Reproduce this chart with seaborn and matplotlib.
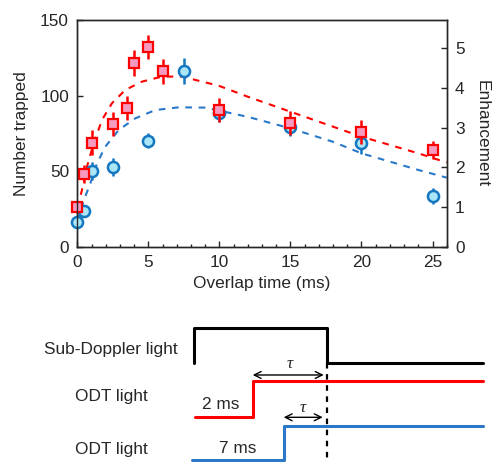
import numpy as np
import pandas as pd
import matplotlib
matplotlib.use("Agg")
import matplotlib.pyplot as plt
import seaborn as sns

# measured points
t_2ms = [0, 0.5, 1, 2.5, 3.5, 4, 5, 6, 10, 15, 20, 25]
n_2ms = [26.2, 48.2, 69, 81.3, 91.6, 121.8, 132.4, 116, 90.5, 81.7, 75.8, 64.3]
err_2ms = [4, 6, 8, 8, 8, 8.5, 8, 8, 8, 8, 8, 6]

t_7ms = [0, 0.5, 1, 2.5, 5, 7.5, 10, 15, 20, 25]
n_7ms = [16.7, 23.6, 50, 52.6, 70.3, 116.3, 88.3, 79.5, 68.5, 33.7]
err_7ms = [2, 2, 6, 6, 5, 8.5, 6, 6, 7, 5]

# fit curves
fit_t_2ms = [0, 0.33, 0.68, 1.15, 1.74, 2.44, 3.38, 4.56, 5.96, 7.37, 9.25, 10, 12, 15, 18, 20, 22, 24, 26]
fit_n_2ms = [26, 37.7, 53, 68.5, 84, 95, 103.8, 109.3, 112.6, 112.6, 108.2, 106.4, 99.3, 89.4, 79.5, 72.9, 67.4, 61.9, 55.8]
fit_t_7ms = [0, 0.5, 0.92, 1.39, 1.97, 2.91, 4.08, 5.49, 7.14, 9.0, 10, 12, 15, 18, 20, 22, 24, 26]
fit_n_7ms = [17, 32, 42, 55.3, 66.3, 77.3, 85, 90.5, 92.3, 92.1, 90.1, 86, 78.4, 69.5, 61.9, 56.4, 50.9, 45.8]

# timing diagram (schematic units, 0 = sub-Doppler light off)
sd_t = [-13.3, -13.3, 0, 0, 15.6]
sd_level = [9.9, 13.4, 13.4, 9.9, 9.9]
odt2_t = [-13.2, -7.4, -7.4, 15.6]
odt2_level = [4.5, 4.5, 8.1, 8.1]
odt7_t = [-13.5, -4.3, -4.3, 15.6]
odt7_level = [0.15, 0.15, 3.6, 3.6]

RED = "#ff0000"
PINK = "#f79ac0"
BLUE = "#1577c0"
CYAN = "#a8e6f8"
FIT_BLUE = "#2a78c8"

sns.set_style("ticks")
plt.rcParams["font.family"] = ["Liberation Sans", "DejaVu Sans"]
plt.rcParams["font.size"] = 12.4
plt.rcParams["axes.linewidth"] = 1.0

fig = plt.figure(figsize=(4.93, 4.62), dpi=100)
ax = fig.add_axes([0.1568, 0.4654, 0.7494, 0.4913])

fit2 = pd.DataFrame({"t": fit_t_2ms, "n": fit_n_2ms})
fit7 = pd.DataFrame({"t": fit_t_7ms, "n": fit_n_7ms})
sns.lineplot(data=fit7, x="t", y="n", ax=ax, color=FIT_BLUE, lw=1.5,
             sort=False, estimator=None)
sns.lineplot(data=fit2, x="t", y="n", ax=ax, color=RED, lw=1.5,
             sort=False, estimator=None)
for line in ax.lines:
    line.set_dashes([3.2, 3.2])

ax.errorbar(t_7ms, n_7ms, yerr=err_7ms, fmt="o", ms=8, mfc=CYAN, mec=BLUE,
            mew=1.8, ecolor=BLUE, elinewidth=1.8, capsize=0, zorder=3, clip_on=False)
ax.errorbar(t_2ms, n_2ms, yerr=err_2ms, fmt="s", ms=7.2, mfc=PINK, mec=RED,
            mew=1.6, ecolor=RED, elinewidth=1.8, capsize=0, zorder=4, clip_on=False)

ax.set_xlim(0, 26)
ax.set_ylim(0, 150)
ax.set_xticks([0, 5, 10, 15, 20, 25])
ax.set_xticks(np.arange(0, 27, 1), minor=True)
ax.set_yticks([0, 50, 100, 150])
ax.tick_params(axis="both", which="major", direction="in", length=4, width=1, pad=6)
ax.tick_params(axis="x", which="minor", direction="in", length=2.5, width=1)
ax.set_xlabel("Overlap time (ms)", labelpad=4)
ax.set_ylabel("Number trapped", labelpad=8)

ax2 = ax.twinx()
ax2.set_ylim(0, 150 / 26.3)
ax2.set_yticks([0, 1, 2, 3, 4, 5])
ax2.tick_params(axis="y", direction="in", length=4, width=1, pad=6)
ax2.set_ylabel("Enhancement", rotation=270, labelpad=18)

# timing diagram
bx = fig.add_axes([0, 0, 1, 0.31])
bx.set_xlim(-32.67, 16.63)
bx.set_ylim(0, 14.32)
bx.axis("off")
sns.lineplot(x=sd_t, y=sd_level, ax=bx, color="black", lw=2.2,
             sort=False, estimator=None)
sns.lineplot(x=odt2_t, y=odt2_level, ax=bx, color=RED, lw=2.2,
             sort=False, estimator=None)
sns.lineplot(x=odt7_t, y=odt7_level, ax=bx, color=FIT_BLUE, lw=2.2,
             sort=False, estimator=None)
bx.plot([0, 0], [9.9, 0], color="black", lw=1.6, ls=(0, (2.5, 2.5)))

bx.annotate("", xy=(-7.4, 8.7), xytext=(-0.3, 8.7),
            arrowprops=dict(arrowstyle="<->", color="black", lw=1, shrinkA=0, shrinkB=0))
bx.annotate("", xy=(-4.3, 4.47), xytext=(-0.4, 4.47),
            arrowprops=dict(arrowstyle="<->", color="black", lw=1, shrinkA=0, shrinkB=0))
bx.text(-3.7, 9.8, "τ", ha="center", va="center", fontsize=12.5,
        family=["Liberation Serif"], style="italic")
bx.text(-2.4, 5.4, "τ", ha="center", va="center", fontsize=12.5,
        family=["Liberation Serif"], style="italic")

bx.text(-14.87, 11.2, "Sub-Doppler light", ha="right", va="center")
bx.text(-17.87, 6.5, "ODT light", ha="right", va="center")
bx.text(-17.87, 1.2, "ODT light", ha="right", va="center")
bx.text(-10.57, 5.7, "2 ms", ha="center", va="center")
bx.text(-8.87, 1.3, "7 ms", ha="center", va="center")

fig.savefig("out.png", dpi=100)
